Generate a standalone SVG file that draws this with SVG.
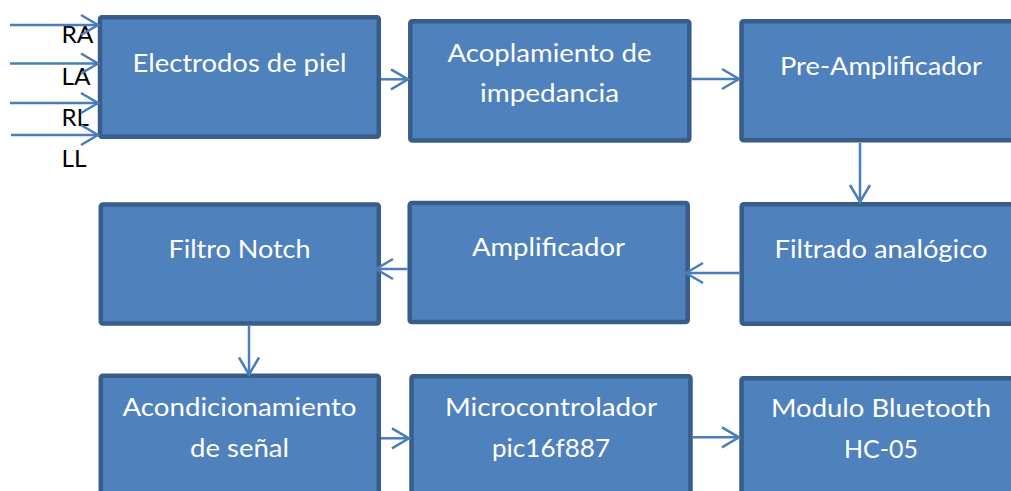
<svg xmlns="http://www.w3.org/2000/svg" width="1011" height="491" viewBox="0 0 1011 491">
<style>
.box{fill:#4F81BD;stroke:#385D8A;stroke-width:4.5}
.t{font-family:Lato,"Liberation Sans",sans-serif;font-size:25px;fill:#FFFFFF;text-anchor:middle}
.lbl{font-family:Lato,"Liberation Sans",sans-serif;font-size:24px;fill:#000000}
.c{fill:none;stroke:#4A7EBB;stroke-width:2.5}
</style>
<defs>
<marker id="arr" markerUnits="userSpaceOnUse" viewBox="-20 -12 24 24" refX="0" refY="0" markerWidth="24" markerHeight="24" orient="auto" overflow="visible">
<path d="M-17,-10 L0,0 L-17,10" fill="none" stroke="#4A7EBB" stroke-width="2.5"/>
</marker>
</defs>
<rect width="1011" height="491" fill="#FFFFFF"/>
<g id="n1"><rect class="box" x="100" y="17.3" width="278.8" height="119.5" rx="2"/><text class="t" x="239.5" y="72" textLength="214" lengthAdjust="spacingAndGlyphs">Electrodos de piel</text></g>
<g id="n2"><rect class="box" x="410.3" y="21.3" width="279" height="119.2" rx="2"/><text class="t" x="549.5" y="61.7" textLength="204" lengthAdjust="spacingAndGlyphs">Acoplamiento de</text><text class="t" x="549.5" y="101.7" textLength="139" lengthAdjust="spacingAndGlyphs">impedancia</text></g>
<g id="n3"><rect class="box" x="741.5" y="21.3" width="280" height="119" rx="2"/><text class="t" x="881" y="75" textLength="202" lengthAdjust="spacingAndGlyphs">Pre-Amplificador</text></g>
<g id="n4"><rect class="box" x="100.8" y="204.5" width="278" height="119" rx="2"/><text class="t" x="239.5" y="258.3" textLength="142" lengthAdjust="spacingAndGlyphs">Filtro Notch</text></g>
<g id="n5"><rect class="box" x="409.7" y="203" width="278" height="119" rx="2"/><text class="t" x="548.5" y="255.7" textLength="153" lengthAdjust="spacingAndGlyphs">Amplificador</text></g>
<g id="n6"><rect class="box" x="741.7" y="204.3" width="280" height="119.5" rx="2"/><text class="t" x="881" y="258.3" textLength="213" lengthAdjust="spacingAndGlyphs">Filtrado analógico</text></g>
<g id="n7"><rect class="box" x="100.8" y="375.7" width="278" height="119" rx="2"/><text class="t" x="239.5" y="416" textLength="234" lengthAdjust="spacingAndGlyphs">Acondicionamiento</text><text class="t" x="239.5" y="456.7" textLength="99" lengthAdjust="spacingAndGlyphs">de señal</text></g>
<g id="n8"><rect class="box" x="411.5" y="376.2" width="279" height="119" rx="2"/><text class="t" x="551" y="416" textLength="212" lengthAdjust="spacingAndGlyphs">Microcontrolador</text><text class="t" x="551" y="456.7" textLength="118" lengthAdjust="spacingAndGlyphs">pic16f887</text></g>
<g id="n9"><rect class="box" x="741.5" y="378.2" width="280" height="119" rx="2"/><text class="t" x="881" y="417.3" textLength="220" lengthAdjust="spacingAndGlyphs">Modulo Bluetooth</text><text class="t" x="881" y="458.3" textLength="74" lengthAdjust="spacingAndGlyphs">HC-05</text></g>
<g id="labels">
<text class="lbl" x="61.5" y="43.3" textLength="32" lengthAdjust="spacingAndGlyphs">RA</text>
<text class="lbl" x="61.5" y="85" textLength="29" lengthAdjust="spacingAndGlyphs">LA</text>
<text class="lbl" x="61.5" y="126" textLength="27.5" lengthAdjust="spacingAndGlyphs">RL</text>
<text class="lbl" x="61.5" y="166.7" textLength="25" lengthAdjust="spacingAndGlyphs">LL</text>
</g>
<g id="connectors">
<path class="c" d="M10,25 H98" marker-end="url(#arr)"/>
<path class="c" d="M10,63.5 H98" marker-end="url(#arr)"/>
<path class="c" d="M10,103 H98" marker-end="url(#arr)"/>
<path class="c" d="M11,135 H98" marker-end="url(#arr)"/>
<path class="c" d="M381,79.3 H408" marker-end="url(#arr)"/>
<path class="c" d="M691.5,79 H739" marker-end="url(#arr)"/>
<path class="c" d="M860,143 V202" marker-end="url(#arr)"/>
<path class="c" d="M739.5,273 H686" marker-end="url(#arr)"/>
<path class="c" d="M407.5,269 H376" marker-end="url(#arr)"/>
<path class="c" d="M249,325.5 V374.5" marker-end="url(#arr)"/>
<path class="c" d="M381,438.3 H409" marker-end="url(#arr)"/>
<path class="c" d="M693,437.3 H739" marker-end="url(#arr)"/>
</g>
</svg>
